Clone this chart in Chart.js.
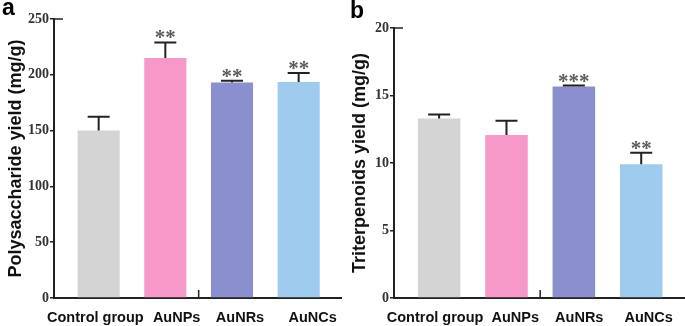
<!DOCTYPE html>
<html><head><meta charset="utf-8">
<script src="https://cdn.jsdelivr.net/npm/chart.js@4.4.1/dist/chart.umd.min.js"></script>
<style>
html,body{margin:0;padding:0;background:#fff;}
#wrap{position:relative;width:685px;height:326px;overflow:hidden;background:#fff;}
.panel{position:absolute;top:0;height:326px;}
</style></head><body>
<div id="wrap">
<div class="panel" style="left:0;width:342px"><canvas id="ca" width="342" height="326"></canvas></div>
<div class="panel" style="left:342px;width:343px"><canvas id="cb" width="343" height="326"></canvas></div>
</div>
<script>
// ---- data ----
const categories = ['Control group', 'AuNPs', 'AuNRs', 'AuNCs'];
const polyMean   = [150, 215, 193, 193.5];
const polyUpper  = [162.5, 229, 194.7, 201.6];
const polySig    = ['', '**', '**', '**'];
const polyTicks  = [0, 50, 100, 150, 200, 250];
const triMean    = [13.3, 12.07, 15.67, 9.9];
const triUpper   = [13.6, 13.13, 15.74, 10.76];
const triSig     = ['', '', '***', '**'];
const triTicks   = [0, 5, 10, 15, 20];
const barColors  = ['#d4d4d4', '#f799c8', '#8a90cd', '#9fcbef'];

const SANS = '"Liberation Sans", Arial, sans-serif';
const SERIF = '"Liberation Serif", "Times New Roman", serif';

const annotPlugin = {
  id: 'annot',
  afterDatasetsDraw(chart, args, o) {
    const ctx = chart.ctx, xs = chart.scales.x, ys = chart.scales.y;
    ctx.save();
    ctx.strokeStyle = '#222';
    ctx.lineWidth = 2;
    o.mean.forEach((m, i) => {
      const x = xs.getPixelForValue(i);
      const yb = ys.getPixelForValue(m);
      const yt = ys.getPixelForValue(o.upper[i]);
      ctx.beginPath();
      ctx.moveTo(x, yb); ctx.lineTo(x, yt);
      ctx.moveTo(x - 11, yt); ctx.lineTo(x + 11, yt);
      ctx.stroke();
      if (o.sig[i]) {
        ctx.fillStyle = '#5a5a5a';
        ctx.font = 'bold 21px ' + SERIF;
        ctx.textAlign = 'center';
        ctx.textBaseline = 'alphabetic';
        ctx.fillText(o.sig[i], x, yt + 2);
      }
    });
    const xb = xs.getPixelForValue(1.5), y0 = ys.getPixelForValue(0);
    ctx.beginPath();
    ctx.lineWidth = 1.5;
    ctx.moveTo(xb, y0); ctx.lineTo(xb, y0 - 8);
    ctx.stroke();
    const ytop = ys.getPixelForValue(ys.max);
    ctx.beginPath();
    ctx.moveTo(xs.left, ytop); ctx.lineTo(xs.left + 9, ytop);
    ctx.stroke();
    ctx.fillStyle = '#000';
    ctx.font = 'bold 23px ' + SANS;
    ctx.textAlign = 'left';
    ctx.textBaseline = 'alphabetic';
    ctx.fillText(o.letter, o.letterX, o.letterY);
    ctx.restore();
  }
};

function makePanel(id, p) {
  return new Chart(document.getElementById(id), {
    type: 'bar',
    data: {
      datasets: [{
        data: p.mean.map((v, i) => ({ x: i, y: v })),
        backgroundColor: barColors,
        borderWidth: 0,
        categoryPercentage: 1,
        barPercentage: 0.665
      }]
    },
    options: {
      responsive: false,
      animation: false,
      devicePixelRatio: 1,
      layout: { padding: { left: 0, right: 0, top: p.top, bottom: 0 } },
      plugins: {
        legend: { display: false },
        tooltip: { enabled: false },
        annot: { mean: p.mean, upper: p.upper, sig: p.sig, letter: p.letter, letterX: p.letterX, letterY: p.letterY }
      },
      scales: {
        x: {
          type: 'linear',
          offset: false,
          min: -0.67, max: 3.65,
          grid: { display: false, offset: false },
          border: { display: true, color: '#222', width: 2 },
          afterBuildTicks: s => { s.ticks = p.labelPos.map(v => ({ value: v })); },
          afterFit: s => { s.height = 28; },
          ticks: {
            autoSkip: false,
            maxRotation: 0,
            padding: 3,
            color: '#111',
            font: { family: SANS, weight: 'bold', size: 14.5 },
            callback: (v, i) => categories[i]
          }
        },
        y: {
          min: 0, max: p.ticks[p.ticks.length - 1],
          afterBuildTicks: s => { s.ticks = p.ticks.map(v => ({ value: v })); },
          afterFit: s => { s.width = p.yWidth; },
          grid: { drawOnChartArea: false, drawTicks: true, tickLength: 4, color: '#222', lineWidth: 1.5 },
          border: { display: true, color: '#222', width: 2 },
          ticks: {
            padding: 1,
            color: '#333',
            font: { family: SERIF, weight: 'bold', size: 14 }
          },
          title: {
            display: true,
            text: p.title,
            color: '#111',
            font: { family: SANS, weight: 'bold', size: 18 },
            padding: { top: p.titlePad, bottom: 0 }
          }
        }
      }
    },
    plugins: [annotPlugin]
  });
}

makePanel('ca', {
  mean: polyMean, upper: polyUpper, sig: polySig, ticks: polyTicks,
  title: 'Polysaccharide yield (mg/g)', titlePad: 5, yWidth: 54, top: 19,
  labelPos: [-0.05, 1.17, 2.12, 3.21], letter: 'a', letterX: 2, letterY: 15
});
makePanel('cb', {
  mean: triMean, upper: triUpper, sig: triSig, ticks: triTicks,
  title: 'Triterpenoids yield (mg/g)', titlePad: 7, yWidth: 52, top: 28,
  labelPos: [-0.06, 1.13, 2.08, 3.11], letter: 'b', letterX: 8, letterY: 18
});
</script>
</body></html>
